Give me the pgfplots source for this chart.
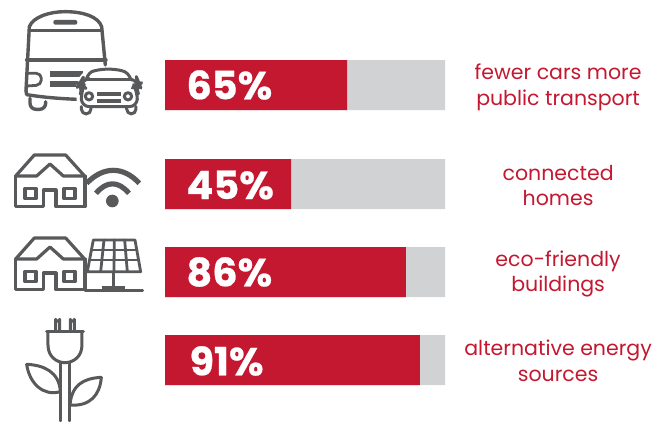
\documentclass[border=0pt]{standalone}
\usepackage{pgfplots}
\pgfplotsset{compat=1.18}
\usepackage{fontspec}
\setmainfont{Poppins}
\newfontfamily\valuefont[FakeStretch=1.02, FakeBold=0.6]{Poppins Bold}
\definecolor{brandred}{HTML}{C41730}
\definecolor{track}{HTML}{D1D2D4}
\definecolor{icon}{HTML}{58595B}
\begin{document}
\begin{tikzpicture}
\path[use as bounding box] (0,0) rectangle (663pt,421pt);
\begin{axis}[
  at={(0,0)}, anchor=south west,
  scale only axis, width=663pt, height=421pt,
  xmin=-58.93, xmax=177.86, ymin=0, ymax=421, y dir=reverse,
  hide axis, clip=false,
  xbar, bar width=50pt, bar shift=0pt,
]
\addplot[fill=track, draw=none] coordinates {(100,85) (100,184) (100,272) (100,360)};
\addplot[fill=brandred, draw=none] coordinates {(65,85) (45,184) (86,272) (91,360)};
\foreach \v/\y/\dx in {65/85/0, 45/185/0, 86/272/0, 91/361/1.1} {
  \edef\tmp{\noexpand\node[anchor=west, inner sep=0pt, text=white, font=\noexpand\fontsize{39}{39}\noexpand\selectfont\noexpand\valuefont]
    at (axis cs:{7.6+\dx},\y) {\v\noexpand\%};}
  \tmp
}
\foreach \a/\b/\y in {fewer cars more/public transport/87.5, connected/homes/185.5, eco-friendly/buildings/274, alternative energy/sources/361} {
  \edef\tmp{\noexpand\node[align=center, inner sep=0pt, text=brandred, font=\noexpand\fontsize{20.5}{25.5}\noexpand\selectfont]
    at (axis cs:140.4,\y) {\a\noexpand\\\b};}
  \tmp
}
\end{axis}
% Pictograms, drawn on a grid of one third of a unit with y running downwards
\begin{scope}[x=0.3333pt, y=-0.3333pt, yshift=421pt, draw=icon, line join=round, line cap=round, line width=3.4pt]
  % bus
  \draw (78,272) -- (88,80) .. controls (100,50) and (150,35) .. (195,35) .. controls (250,35) and (295,50) .. (305,80) -- (316,195);
  \draw (88,92) -- (305,92);
  \draw (80,180) -- (318,180);
  \draw (78,272) -- (80,284) .. controls (130,292) and (180,296) .. (232,298);
  \fill[icon, rounded corners=2pt] (160,60) rectangle (232,74);
  \draw[rounded corners=5pt, line width=2.8pt] (82,220) -- (124,220) -- (124,255) -- (82,258);
  \fill[icon] (150,213) rectangle (248,230);
  \fill[icon] (150,243) rectangle (248,260);
  \draw[rounded corners=6pt] (90,295) -- (90,328) -- (137,328) -- (137,305);
  % car
  \fill[white] (230,240) -- (262,205) -- (385,205) -- (428,240) -- (428,350) -- (230,350) -- cycle;
  \begin{scope}[line width=3pt]
    \draw (258,240) .. controls (265,222) and (270,215) .. (285,212) .. controls (310,206) and (340,206) .. (365,212) .. controls (380,215) and (388,225) .. (393,240);
    \draw[rounded corners=8pt] (258,238) -- (244,242) -- (238,252) -- (250,260) -- (244,275) -- (244,320) -- (412,320) -- (412,275) -- (404,260) -- (418,252) -- (414,242) -- (395,238);
    \draw (258,238) -- (395,238);
    \draw (267,289) circle[radius=11];
    \draw (384,289) circle[radius=11];
    \draw[rounded corners=5pt] (244,320) -- (244,342) -- (273,342) -- (273,325);
    \draw[rounded corners=5pt] (380,325) -- (380,342) -- (408,342) -- (408,320);
  \end{scope}
  \fill[icon] (292,276) rectangle (362,287);
  \fill[icon] (292,297) rectangle (362,308);
  % house beside the wifi symbol
  \begin{scope}[yshift=-140pt, line width=3.2pt]
    \draw (47,108) -- (103,45) -- (197,45) -- (252,106);
    \draw (47,108) -- (110,108) -- (150,72) -- (190,108) -- (255,108);
    \draw (47,108) -- (47,200) -- (130,200) -- (130,150) -- (168,150) -- (168,200) -- (255,200) -- (255,108);
    \draw (75,145) rectangle (108,176);
    \draw (192,145) rectangle (225,176);
    \fill[icon] (337,183) circle[radius=19];
    \draw[line width=5.2pt, line cap=butt] (288,160) .. controls (320,122) and (355,122) .. (387,160);
    \draw[line width=5.2pt, line cap=butt] (260,130) .. controls (310,78) and (370,78) .. (418,130);
  \end{scope}
  % house beside the solar panel
  \begin{scope}[yshift=-223pt, line width=3.2pt]
    \draw (47,108) -- (103,45) -- (197,45) -- (252,106);
    \draw (47,108) -- (110,108) -- (150,72) -- (190,108) -- (255,108);
    \draw (47,108) -- (47,200) -- (130,200) -- (130,150) -- (168,150) -- (168,200) -- (255,200) -- (255,108);
    \draw (75,145) rectangle (108,176);
    \draw (192,145) rectangle (225,176);
  \end{scope}
  \begin{scope}[yshift=-140pt, line width=2.8pt]
    \draw (280,300) -- (405,300) -- (422,395) -- (262,395) -- cycle;
    \draw (274,330) -- (411,330);
    \draw (268,360) -- (416,360);
    \draw (312,300) -- (302,395);
    \draw (343,300) -- (342,395);
    \draw (374,300) -- (382,395);
    \draw (340,395) -- (340,440);
    \draw[line width=3.6pt, line cap=butt] (305,442) -- (375,442);
    \draw (255,452) -- (428,452);
  \end{scope}
  % plug growing out of a stem with two leaves
  \begin{scope}[yshift=-300pt, line width=3pt]
    \draw (167,92) -- (167,58) arc[start angle=180, end angle=0, radius=6] -- (179,92);
    \draw (211,92) -- (211,58) arc[start angle=180, end angle=0, radius=6] -- (223,92);
    \draw (140,95) -- (250,95);
    \draw (144,95) -- (144,135) .. controls (144,170) and (170,188) .. (195,188) .. controls (220,188) and (246,170) .. (246,135) -- (246,95);
    \draw (183,190) -- (183,363);
    \draw (208,190) -- (208,363);
    \draw (80,193) .. controls (130,195) and (178,215) .. (181,275) .. controls (130,290) and (88,250) .. (80,193);
    \draw (304,232) .. controls (250,235) and (215,255) .. (210,315) .. controls (270,320) and (300,285) .. (304,232);
  \end{scope}
\end{scope}
\end{tikzpicture}
\end{document}
